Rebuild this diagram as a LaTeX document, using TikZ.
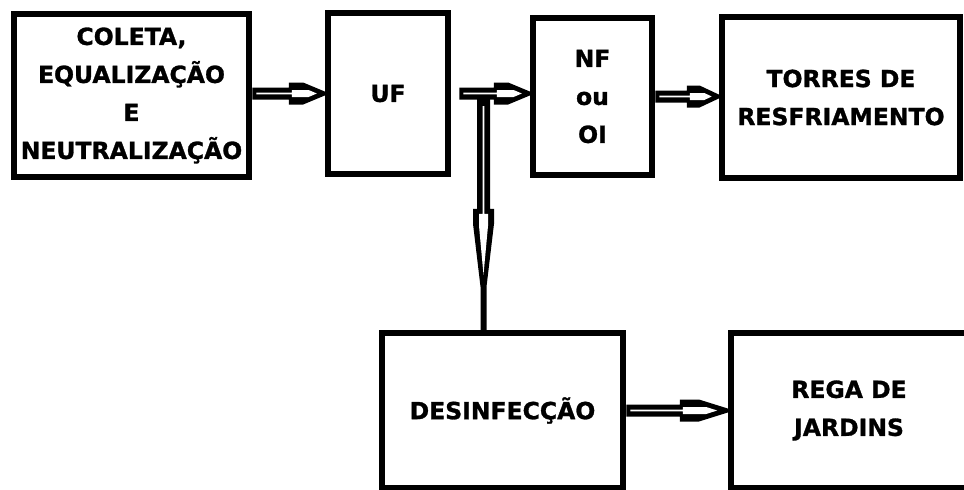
\documentclass[tikz,border=0pt]{standalone}
\usepackage{fontspec}
\setmainfont{DejaVu Sans}[BoldFeatures={FakeBold=1.2}]
\usetikzlibrary{calc}
\tikzset{
  blk/.style={draw=black, line width=6.5pt, inner sep=0pt, align=center,
    font=\fontsize{23.5}{38}\selectfont\bfseries, text=black},
}
% hollow-looking horizontal arrow: #1 start, #2 tip, #3 head length (pt)
\newcommand\harrow[3]{%
  \fill[black] let \p1=#1, \p2=#2 in
    (\x1,\y1-6pt) -- (\x2-#3pt,\y1-6pt) -- (\x2-#3pt,\y1-11pt)
    -- (\x2-0.6*#3pt,\y1-11pt) -- (\x2,\y1-2pt) -- (\x2,\y1+2pt)
    -- (\x2-0.6*#3pt,\y1+11pt) -- (\x2-#3pt,\y1+11pt) -- (\x2-#3pt,\y1+6pt)
    -- (\x1,\y1+6pt) -- cycle;
  \fill[white] let \p1=#1, \p2=#2 in
    (\x1+4pt,\y1-0.8pt) -- (\x2-#3pt+3pt,\y1-0.8pt) -- (\x2-#3pt+3pt,\y1-3.5pt)
    -- (\x2-0.45*#3pt,\y1-3.5pt) -- (\x2-0.22*#3pt,\y1) -- (\x2-0.45*#3pt,\y1+3.5pt)
    -- (\x2-#3pt+3pt,\y1+3.5pt) -- (\x2-#3pt+3pt,\y1+0.8pt) -- (\x1+4pt,\y1+0.8pt) -- cycle;
}
\begin{document}
\begin{tikzpicture}[x=1pt,y=-1pt]
\useasboundingbox (0,0) rectangle (964,490);
\clip (0,0) rectangle (964,490);

\node[blk, minimum width=235pt, minimum height=163pt] (b1) at (131.5,95.5)
  {COLETA,\\EQUALIZAÇÃO\\E\\NEUTRALIZAÇÃO};
\node[blk, minimum width=120pt, minimum height=161pt] (uf) at (388,93.5) {UF};
\node[blk, minimum width=119pt, minimum height=157pt] (nf) at (592.5,96.5) {NF\\ou\\OI};
\node[blk, minimum width=238pt, minimum height=161pt] (tr) at (841,97.5)
  {TORRES DE\\RESFRIAMENTO};
\node[blk, minimum width=241pt, minimum height=155pt] (ds) at (502.5,410.5) {DESINFECÇÃO};
\node[blk, minimum width=236pt, minimum height=155pt] (rg) at (849,410.5)
  {REGA DE\\JARDINS};

\harrow{(b1.east |- uf.west)}{(uf.west)}{36}
\harrow{([xshift=8pt]uf.east)}{(nf.west |- uf.east)}{36}
\harrow{(nf.east)}{(tr.west |- nf.east)}{32}
\harrow{(ds.east)}{(rg.west |- ds.east)}{48}

% branch down from the UF -> NF arrow to DESINFECÇÃO
\coordinate (br) at (483.5,99);
\fill[black] let \p1=(br), \p2=(br |- ds.north) in
  (\x1-6.5pt,\y1) -- (\x1-6.5pt,\y2+121pt) -- (\x1-10.5pt,\y2+121pt) -- (\x1-10.5pt,\y2+106pt)
  -- (\x1-3pt,\y2+43pt) -- (\x1-3pt,\y2) -- (\x1+3pt,\y2) -- (\x1+3pt,\y2+43pt)
  -- (\x1+10.5pt,\y2+106pt) -- (\x1+10.5pt,\y2+121pt) -- (\x1+6.5pt,\y2+121pt) -- (\x1+6.5pt,\y1) -- cycle;
\fill[white] let \p1=(br), \p2=(br |- ds.north) in
  (\x1-0.8pt,\y1-7pt) -- (\x1-0.8pt,\y2+116pt) -- (\x1-4.5pt,\y2+116pt) -- (\x1-4.5pt,\y2+104pt)
  -- (\x1,\y2+55pt) -- (\x1+4.5pt,\y2+104pt) -- (\x1+4.5pt,\y2+116pt) -- (\x1+0.8pt,\y2+116pt)
  -- (\x1+0.8pt,\y1-7pt) -- cycle;
\end{tikzpicture}
\end{document}
